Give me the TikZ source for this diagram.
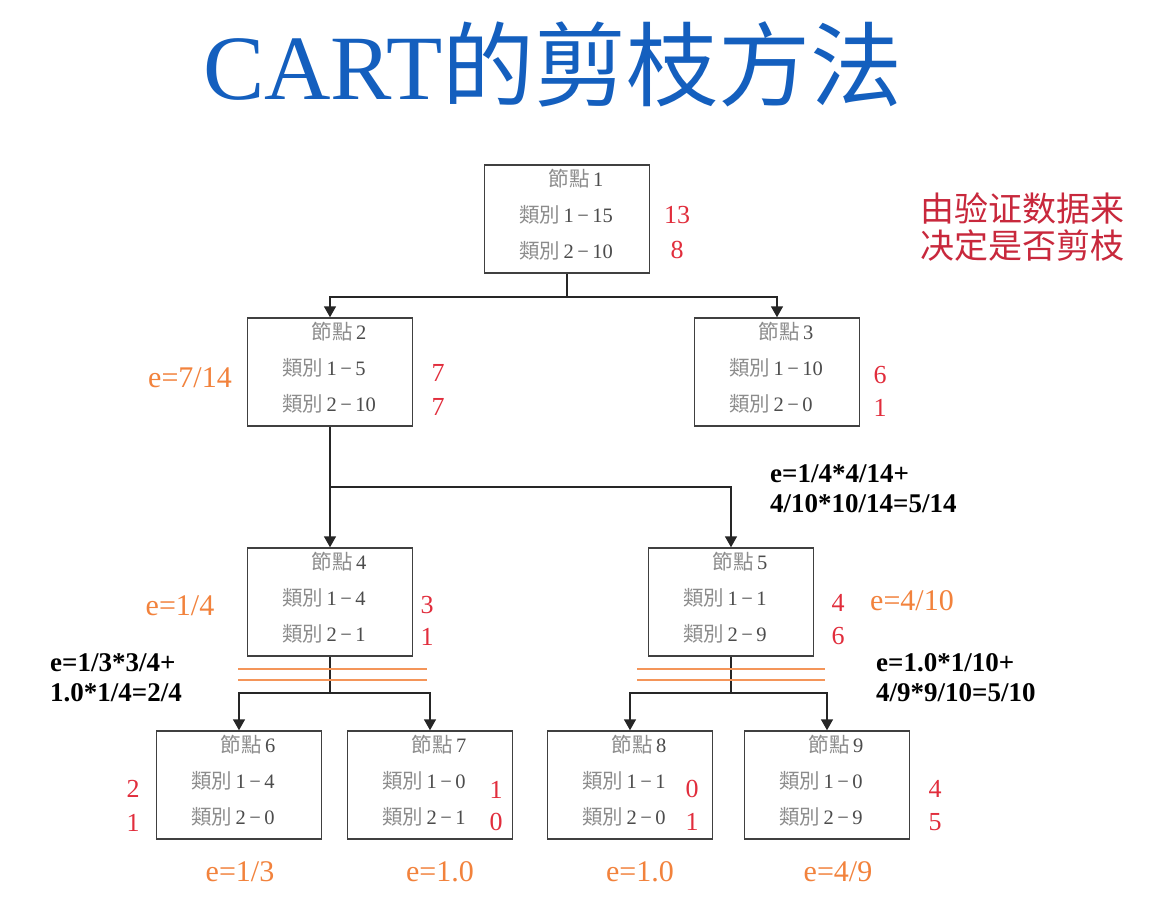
\documentclass[tikz,border=0pt]{standalone}
\usepackage{fontspec}
\setmainfont{Liberation Serif}
\newfontfamily\cjksc{Noto Sans CJK SC}
\newfontfamily\cjktc{Noto Sans CJK TC}
\usetikzlibrary{arrows.meta}

\definecolor{titleblue}{RGB}{20,95,190}
\definecolor{cntred}{RGB}{225,45,60}
\definecolor{errorange}{RGB}{242,130,60}
\definecolor{notered}{RGB}{200,40,60}

\tikzset{
  treebox/.style={draw=black!75, line width=1.5pt, minimum width=165pt,
    minimum height=108pt, inner sep=0pt},
  cell/.style={font=\fontsize{20.5}{21}\selectfont, text=black!70, inner sep=0pt},
  cnt/.style={font=\fontsize{26}{26}\selectfont, text=cntred, inner sep=0pt},
  err/.style={font=\fontsize{30}{30}\selectfont, text=errorange, inner sep=0pt},
  formula/.style={font=\bfseries\fontsize{27}{30}\selectfont, align=left,
    inner sep=0pt, anchor=west},
  link/.style={draw=black!85, line width=1.6pt},
  arr/.style={link, -{Triangle[width=12pt,length=11pt]}},
  cut/.style={draw=errorange!85, line width=1.4pt},
}

% one tree node: name, centre x, top y, index, class-1 count, class-2 count
\newcommand\treenode[6]{%
  \node[treebox] (#1) at (#2,#3+54) {};
  \node[cell, anchor=mid] (#1-t) at (#2+9,#3+19) {{\cjktc\color{black!45}節點}\,#4};
  \node[cell, anchor=mid west] (#1-a) at (#2-48,#3+55) {{\cjktc\color{black!45}類別}\,1\,−\,#5};
  \node[cell, anchor=mid west] (#1-b) at (#2-48,#3+91) {{\cjktc\color{black!45}類別}\,2\,−\,#6};
}

\begin{document}
\begin{tikzpicture}[x=1pt, y=-1pt]
  \useasboundingbox[fill=white] (0,0) rectangle (1165,900);

  % heading
  \node[inner sep=0pt, text=titleblue, font=\fontsize{92}{92}\selectfont]
    (title) at (553,64) {CART{\cjksc 的剪枝方法}};

  % side note
  \node[inner sep=0pt, text=notered, align=center,
        font=\cjksc\fontsize{34}{37}\selectfont]
    (note) at (1022,227) {由验证数据来\\决定是否剪枝};

  % tree nodes
  \treenode{n1}{567}{165}{1}{15}{10}
  \treenode{n2}{330}{318}{2}{5}{10}
  \treenode{n3}{777}{318}{3}{10}{0}
  \treenode{n4}{330}{548}{4}{4}{1}
  \treenode{n5}{731}{548}{5}{1}{9}
  \treenode{n6}{239}{731}{6}{4}{0}
  \treenode{n7}{430}{731}{7}{0}{1}
  \treenode{n8}{630}{731}{8}{1}{0}
  \treenode{n9}{827}{731}{9}{0}{9}

  % validation counts
  \node[cnt] (c1a) at (677,215) {13};  \node[cnt] (c1b) at (677,250) {8};
  \node[cnt] (c2a) at (438,373) {7};   \node[cnt] (c2b) at (438,407) {7};
  \node[cnt] (c3a) at (880,375) {6};   \node[cnt] (c3b) at (880,408) {1};
  \node[cnt] (c4a) at (427,605) {3};   \node[cnt] (c4b) at (427,637) {1};
  \node[cnt] (c5a) at (838,603) {4};   \node[cnt] (c5b) at (838,636) {6};
  \node[cnt] (c6a) at (133,789) {2};   \node[cnt] (c6b) at (133,823) {1};
  \node[cnt] (c7a) at (496,790) {1};   \node[cnt] (c7b) at (496,822) {0};
  \node[cnt] (c8a) at (692,789) {0};   \node[cnt] (c8b) at (692,822) {1};
  \node[cnt] (c9a) at (935,789) {4};   \node[cnt] (c9b) at (935,822) {5};

  % error rates
  \node[err] (e2) at (190,378) {e=7/14};
  \node[err] (e4) at (180,606) {e=1/4};
  \node[err] (e5) at (912,601) {e=4/10};
  \node[err] (e6) at (240,872) {e=1/3};
  \node[err] (e7) at (440,872) {e=1.0};
  \node[err] (e8) at (640,872) {e=1.0};
  \node[err] (e9) at (838,872) {e=4/9};

  % subtree error sums
  \node[formula] (f2) at (770,489) {e=1/4*4/14+\\4/10*10/14=5/14};
  \node[formula] (f4) at (50,678) {e=1/3*3/4+\\1.0*1/4=2/4};
  \node[formula] (f5) at (876,678) {e=1.0*1/10+\\4/9*9/10=5/10};

  % branch points
  \coordinate (b1) at (567,297);
  \coordinate (b2) at (330,487);
  \coordinate (b4) at (330,693);
  \coordinate (b5) at (731,693);

  % connectors
  \draw[link] (n1.south) -- (b1);
  \draw[arr] (b1) -| (n2.north);
  \draw[arr] (b1) -| (n3.north);
  \draw[link] (n2.south) -- (b2);
  \draw[arr] (b2) -- (n4.north);
  \draw[arr] (b2) -| (n5.north);
  \draw[link] (n4.south) -- (b4);
  \draw[arr] (b4) -| (n6.north);
  \draw[arr] (b4) -| (n7.north);
  \draw[link] (n5.south) -- (b5);
  \draw[arr] (b5) -| (n8.north);
  \draw[arr] (b5) -| (n9.north);

  % pruning marks
  \draw[cut] (238,669) -- (427,669);
  \draw[cut] (238,680) -- (427,680);
  \draw[cut] (637,669) -- (825,669);
  \draw[cut] (637,680) -- (825,680);
\end{tikzpicture}
\end{document}
